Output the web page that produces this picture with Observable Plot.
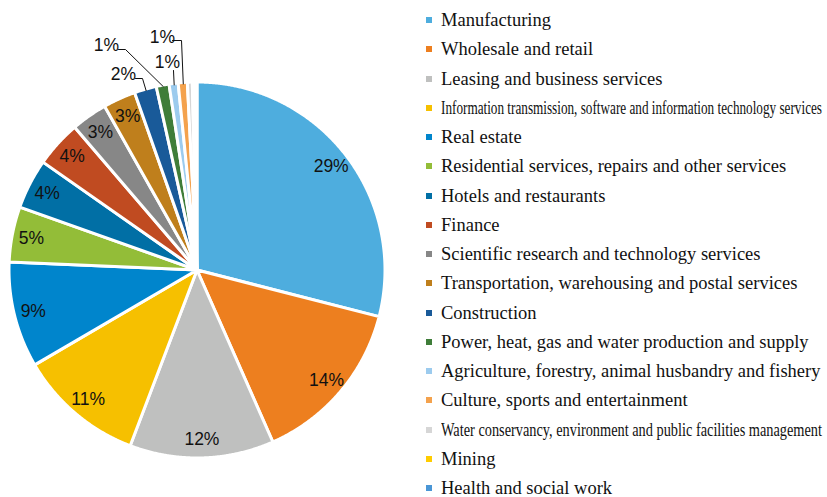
<!DOCTYPE html>
<html>
<head>
<meta charset="utf-8">
<script src="https://cdn.jsdelivr.net/npm/d3@7"></script>
<script src="https://cdn.jsdelivr.net/npm/@observablehq/plot@0.6"></script>
<style>
  html, body { margin: 0; padding: 0; background: #fff; }
  #wrap { position: relative; width: 827px; height: 497px; overflow: hidden; }
  #wrap svg { position: absolute; left: 0; top: 0; }
  .lg { position: absolute; left: 426px; height: 22px; line-height: 22px; white-space: nowrap;
        font-size: 18.5px; color: #111; }
  .lg .sw { position: absolute; left: 0; top: 8px; width: 6px; height: 6px; }
  .lg .tx { position: absolute; left: 15px; top: 0; display: inline-block; transform-origin: 0 50%; }
</style>
</head>
<body>
<div id="wrap"></div>
<script>
// ---- data ----
const categories = [
  "Manufacturing",
  "Wholesale and retail",
  "Leasing and business services",
  "Information transmission, software and information technology services",
  "Real estate",
  "Residential services, repairs and other services",
  "Hotels and restaurants",
  "Finance",
  "Scientific research and technology services",
  "Transportation, warehousing and postal services",
  "Construction",
  "Power, heat, gas and water production and supply",
  "Agriculture, forestry, animal husbandry and fishery",
  "Culture, sports and entertainment",
  "Water conservancy, environment and public facilities management",
  "Mining",
  "Health and social work"
];
const shares = [29.0, 14.4, 12.4, 10.8, 9.1, 4.75, 4.3, 4.0, 3.1, 2.8, 1.9, 1.1, 0.78, 0.78, 0.42, 0.2, 0.2];
const colors = [
  "#4EADDE", "#ED7F1F", "#BFC0BF", "#F6C000", "#0085CC", "#93BD38", "#016FA5", "#C04B21",
  "#878787", "#BF7F1C", "#195A99", "#3F7D39", "#9CCBEE", "#F4A24D", "#D6D6D6", "#FFCC00", "#4A96D6"
];

// ---- layout ----
const W = 827, H = 497, CX = 197, CY = 270, R = 188;
const ux = px => (px - CX) / R;
const uy = py => (CY - py) / R;
// outside label placement (pixels): text centre and elbow points
const outsideLayout = {
  "Construction": {text: [123, 74], path: [[135, 78], [142, 78]]},
  "Power, heat, gas and water production and supply": {text: [106, 45], path: [[118, 49], [125, 49]]},
  "Agriculture, forestry, animal husbandry and fishery": {text: [167, 62], path: [[173, 70]]},
  "Culture, sports and entertainment": {text: [162, 37], path: [[172, 40], [181, 40]]}
};

const data = categories.map((c, i) => ({cat: c, share: shares[i], color: colors[i]}));
const arcs = d3.pie().sort(null).value(d => d.share).startAngle(0).endAngle(2 * Math.PI)(data);

const wedgeRows = [];
for (const a of arcs) {
  const n = Math.max(2, Math.ceil((a.endAngle - a.startAngle) / 0.005));
  for (let k = 0; k <= n; k++) {
    const t = a.startAngle + (a.endAngle - a.startAngle) * k / n;
    wedgeRows.push({cat: a.data.cat, x1: 0, y1: 0, x2: Math.sin(t), y2: Math.cos(t)});
  }
}

const insideRows = [], outsideRows = [], leaderRows = [];
for (const a of arcs) {
  const pct = Math.round(a.data.share);
  if (pct < 1) continue;
  const mid = (a.startAngle + a.endAngle) / 2;
  const label = pct + "%";
  const lay = outsideLayout[a.data.cat];
  if (lay) {
    outsideRows.push({x: ux(lay.text[0]), y: uy(lay.text[1]), label});
    lay.path.forEach(p => leaderRows.push({cat: a.data.cat, x: ux(p[0]), y: uy(p[1])}));
    leaderRows.push({cat: a.data.cat, x: Math.sin(mid) * 0.995, y: Math.cos(mid) * 0.995});
  } else {
    insideRows.push({x: Math.sin(mid) * 0.9, y: Math.cos(mid) * 0.9, label});
  }
}

const SANS = "'Liberation Sans', Arial, Helvetica, sans-serif";
const SERIF = "'Liberation Serif', 'Times New Roman', Times, serif";

const plot = Plot.plot({
  width: W, height: H,
  margin: 0,
  x: {domain: [ux(0), ux(W)], range: [0, W], axis: null},
  y: {domain: [uy(0), uy(H)], range: [0, H], axis: null},
  color: {domain: categories, range: colors},
  style: {background: "transparent"},
  marks: [
    Plot.area(wedgeRows, {x1: "x1", y1: "y1", x2: "x2", y2: "y2", z: "cat", fill: "cat",
      stroke: "white", strokeWidth: 3, strokeLinejoin: "round", curve: "linear"}),
    Plot.text(insideRows, {x: "x", y: "y", text: "label", fontSize: 17.5,
      fontFamily: SANS, fill: "#111"}),
    Plot.line(leaderRows, {x: "x", y: "y", z: "cat", stroke: "#111", strokeWidth: 1, curve: "linear"}),
    Plot.text(outsideRows, {x: "x", y: "y", text: "label", fontSize: 17.5,
      fontFamily: SANS, fill: "#111"})
  ]
});

const wrap = document.getElementById("wrap");
wrap.appendChild(plot);

// ---- legend ----
const LG_Y0 = 20, LG_STEP = 29.25, LG_MAXW = 381;
categories.forEach((c, i) => {
  const row = document.createElement("div");
  row.className = "lg";
  row.style.fontFamily = SERIF;
  row.style.top = (LG_Y0 + i * LG_STEP - 11) + "px";
  const sw = document.createElement("span");
  sw.className = "sw";
  sw.style.background = colors[i];
  const tx = document.createElement("span");
  tx.className = "tx";
  tx.style.fontFamily = SERIF;
  tx.textContent = c;
  row.appendChild(sw);
  row.appendChild(tx);
  wrap.appendChild(row);
  const w = tx.getBoundingClientRect().width;
  if (w > LG_MAXW + 2) tx.style.transform = `scaleX(${LG_MAXW / w})`;
});
</script>
</body>
</html>
